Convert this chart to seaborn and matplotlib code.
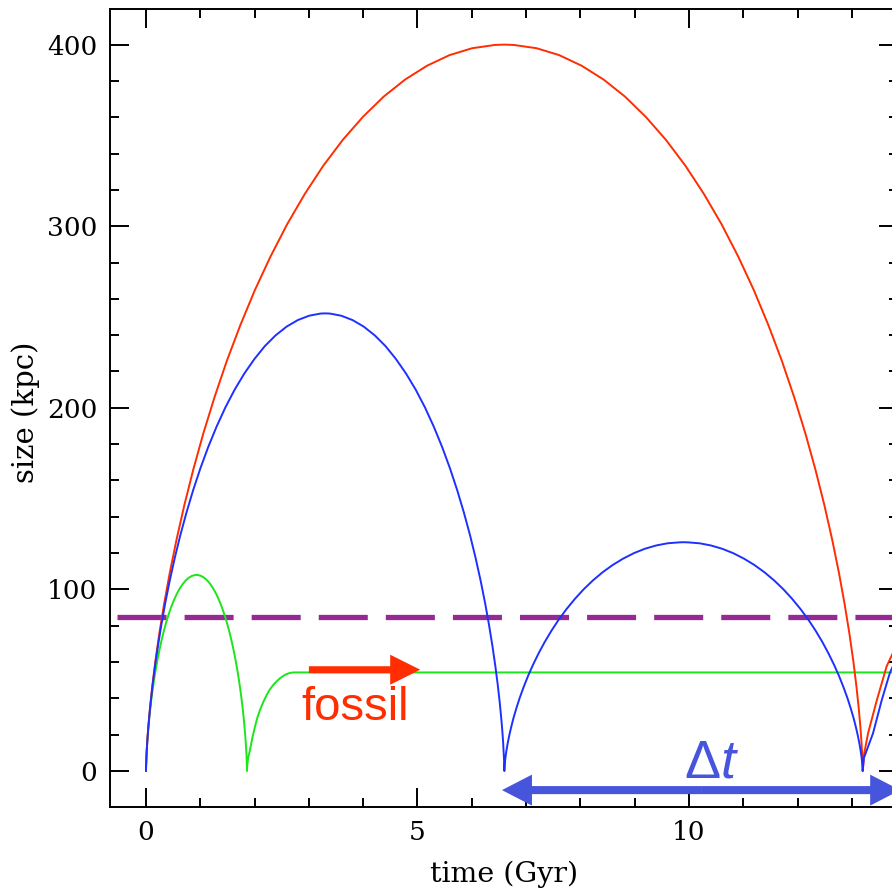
import numpy as np
import pandas as pd
import matplotlib
matplotlib.use("Agg")
import matplotlib.pyplot as plt
from matplotlib.ticker import MultipleLocator
import seaborn as sns

# ---------------- data ----------------
red_t = [0, 0.00035, 0.0028, 0.0094, 0.0222, 0.0432, 0.0743, 0.1172, 0.1736, 0.2451,
         0.3330, 0.4386, 0.5629, 0.7068, 0.8709, 1.0557, 1.2614, 1.4881, 1.7356, 2.0036,
         2.2914, 2.5983, 2.9233, 3.2653, 3.6230, 3.9948, 4.3792, 4.7744, 5.1786, 5.5898,
         6.0061, 6.4253, 6.6,
         6.7747, 7.1939, 7.6102, 8.0214, 8.4256, 8.8208, 9.2052, 9.5770, 9.9347, 10.2767,
         10.6017, 10.9086, 11.1964, 11.4644, 11.7119, 11.9386, 12.1443, 12.3291, 12.4932, 12.6371,
         12.7614, 12.8670, 12.9549, 13.0264, 13.0828, 13.1257, 13.1568, 13.1778, 13.1906, 13.1972,
         13.19965, 13.2,
         13.23, 13.30, 13.46, 13.64, 13.74, 13.85]
red_size = [0, 1.0, 4.0, 8.9, 15.8, 24.5, 34.9, 47.0, 60.7, 75.7,
            91.9, 109.3, 127.5, 146.5, 166.0, 185.9, 205.8, 225.8, 245.4, 264.7,
            283.2, 301.0, 317.7, 333.3, 347.5, 360.2, 371.4, 380.8, 388.4, 394.2,
            398.0, 399.8, 400,
            399.8, 398.0, 394.2, 388.4, 380.8, 371.4, 360.2, 347.5, 333.3, 317.7,
            301.0, 283.2, 264.7, 245.4, 225.8, 205.8, 185.9, 166.0, 146.5, 127.5,
            109.3, 91.9, 75.7, 60.7, 47.0, 34.9, 24.5, 15.8, 8.9, 4.0,
            1.0, 0,
            10, 21, 39, 57.6, 64, 70]

blue_t = [0, 0.00017, 0.0014, 0.0047, 0.0111, 0.0216, 0.0371, 0.0586, 0.0868, 0.1226,
          0.1665, 0.2193, 0.2815, 0.3534, 0.4354, 0.5278, 0.6307, 0.7441, 0.8678, 1.0018,
          1.1457, 1.2992, 1.4617, 1.6327, 1.8115, 1.9974, 2.1896, 2.3872, 2.5893, 2.7949,
          3.0031, 3.2127, 3.3,
          3.3873, 3.5969, 3.8051, 4.0107, 4.2128, 4.4104, 4.6026, 4.7885, 4.9673, 5.1383,
          5.3008, 5.4543, 5.5982, 5.7322, 5.8559, 5.9693, 6.0722, 6.1646, 6.2466, 6.3185,
          6.3807, 6.4335, 6.4774, 6.5132, 6.5414, 6.5629, 6.5784, 6.5889, 6.5953, 6.5986,
          6.5998, 6.6,
          6.6002, 6.6014, 6.6047, 6.6111, 6.6216, 6.6371, 6.6586, 6.6868, 6.7226, 6.7665,
          6.8193, 6.8815, 6.9534, 7.0354, 7.1278, 7.2307, 7.3441, 7.4678, 7.6018, 7.7457,
          7.8992, 8.0617, 8.2327, 8.4115, 8.5974, 8.7896, 8.9872, 9.1893, 9.3949, 9.6031,
          9.8127, 9.9,
          9.9873, 10.1969, 10.4051, 10.6107, 10.8128, 11.0104, 11.2026, 11.3885, 11.5673, 11.7383,
          11.9008, 12.0543, 12.1982, 12.3322, 12.4559, 12.5693, 12.6722, 12.7646, 12.8466, 12.9185,
          12.9807, 13.0335, 13.0774, 13.1132, 13.1414, 13.1629, 13.1784, 13.1889, 13.1953, 13.1986,
          13.1998, 13.2,
          13.22, 13.39, 13.55, 13.70, 13.85]
blue_size = [0, 0.6, 2.5, 5.6, 9.9, 15.4, 22.0, 29.6, 38.2, 47.7,
             57.9, 68.8, 80.3, 92.3, 104.6, 117.1, 129.7, 142.2, 154.6, 166.7,
             178.4, 189.6, 200.2, 210.0, 218.9, 226.9, 234.0, 239.9, 244.7, 248.3,
             250.7, 251.9, 252,
             251.9, 250.7, 248.3, 244.7, 239.9, 234.0, 226.9, 218.9, 210.0, 200.2,
             189.6, 178.4, 166.7, 154.6, 142.2, 129.7, 117.1, 104.6, 92.3, 80.3,
             68.8, 57.9, 47.7, 38.2, 29.6, 22.0, 15.4, 9.9, 5.6, 2.5,
             0.6, 0,
             0.3, 1.3, 2.8, 5.0, 7.7, 11.0, 14.8, 19.1, 23.8, 29.0,
             34.4, 40.2, 46.1, 52.3, 58.5, 64.8, 71.1, 77.3, 83.4, 89.2,
             94.8, 100.1, 105.0, 109.5, 113.5, 117.0, 120.0, 122.4, 124.2, 125.4,
             125.9, 126,
             125.9, 125.4, 124.2, 122.4, 120.0, 117.0, 113.5, 109.5, 105.0, 100.1,
             94.8, 89.2, 83.4, 77.3, 71.1, 64.8, 58.5, 52.3, 46.1, 40.2,
             34.4, 29.0, 23.8, 19.1, 14.8, 11.0, 7.7, 5.0, 2.8, 1.3,
             0.3, 0,
             7, 20.8, 39, 54, 64]

green_t = [0, 0.00005, 0.0004, 0.0013, 0.0031, 0.0061, 0.0105, 0.0165, 0.0245, 0.0345,
           0.0469, 0.0618, 0.0793, 0.0996, 0.1227, 0.1488, 0.1777, 0.2097, 0.2446, 0.2823,
           0.3229, 0.3661, 0.4119, 0.4601, 0.5105, 0.5629, 0.6171, 0.6728, 0.7297, 0.7877,
           0.8463, 0.9054, 0.93,
           0.9546, 1.0137, 1.0723, 1.1303, 1.1872, 1.2429, 1.2971, 1.3495, 1.3999, 1.4481,
           1.4939, 1.5371, 1.5777, 1.6154, 1.6503, 1.6823, 1.7112, 1.7373, 1.7604, 1.7807,
           1.7982, 1.8131, 1.8255, 1.8355, 1.8435, 1.8495, 1.8539, 1.8569, 1.8587, 1.8596,
           1.85995, 1.86,
           1.865, 1.88, 1.915, 1.96, 2.007, 2.05, 2.099, 2.16, 2.223, 2.28, 2.344,
           2.41, 2.468, 2.53, 2.591, 2.65, 2.713, 13.85]
green_size = [0, 0.27, 1.08, 2.41, 4.26, 6.61, 9.43, 12.70, 16.38, 20.43,
              24.82, 29.51, 34.43, 39.56, 44.82, 50.18, 55.58, 60.96, 66.27, 71.46,
              76.47, 81.26, 85.78, 89.98, 93.82, 97.26, 100.27, 102.82, 104.88, 106.43,
              107.46, 107.95, 108,
              107.95, 107.46, 106.43, 104.88, 102.82, 100.27, 97.26, 93.82, 89.98, 85.78,
              81.26, 76.47, 71.46, 66.27, 60.96, 55.58, 50.18, 44.82, 39.56, 34.43,
              29.51, 24.82, 20.43, 16.38, 12.70, 9.43, 6.61, 4.26, 2.41, 1.08,
              0.27, 0,
              3, 7, 11.6, 18.5, 24.4, 29.3, 33.6, 38.0, 41.9, 44.9, 47.4,
              49.5, 51.1, 52.4, 53.4, 54.0, 54.3, 54.3]

threshold_t = [-0.534, 13.85]
threshold_size = [85, 85]

fossil_arrow = [(3.0, 55.8), (5.05, 55.8)]
dt_arrow = [(6.556, -10.5), (13.89, -10.5)]

x_ticks = [0, 5, 10]
y_ticks = [0, 100, 200, 300, 400]

RED = "#FF2D00"
BLUE = "#1E30FF"
GREEN = "#1AE61A"
PURPLE = "#952A94"
DTBLUE = "#4655DC"

# ---------------- plotting ----------------
sns.set_style("ticks")
plt.rcParams["font.family"] = ["DejaVu Serif"]
plt.rcParams["lines.scale_dashes"] = False
plt.rcParams["mathtext.fontset"] = "custom"
plt.rcParams["mathtext.rm"] = "Liberation Sans"
plt.rcParams["mathtext.it"] = "Liberation Sans:italic"
plt.rcParams["text.color"] = "black"
plt.rcParams["xtick.labelcolor"] = "black"
plt.rcParams["ytick.labelcolor"] = "black"
plt.rcParams["xtick.color"] = "black"
plt.rcParams["ytick.color"] = "black"

fig = plt.figure(figsize=(8.92, 8.90), dpi=100)
ax = fig.add_axes([110 / 892, 83 / 890, 788 / 892, 798 / 890])

# dashed threshold line (drawn underneath the curves)
sns.lineplot(x=threshold_t, y=threshold_size, color=PURPLE, lw=3.8,
             linestyle=(0, (35.3, 13.0)), estimator=None, sort=False, ax=ax, zorder=1)

df = pd.concat([
    pd.DataFrame({"series": "green", "t": green_t, "size": green_size}),
    pd.DataFrame({"series": "red", "t": red_t, "size": red_size}),
    pd.DataFrame({"series": "blue", "t": blue_t, "size": blue_size}),
], ignore_index=True)

sns.lineplot(data=df, x="t", y="size", hue="series",
             hue_order=["green", "red", "blue"],
             palette={"red": RED, "blue": BLUE, "green": GREEN},
             estimator=None, sort=False, legend=False, lw=1.4, ax=ax, zorder=2)

# fossil arrow
ax.annotate("", xy=fossil_arrow[1], xytext=fossil_arrow[0],
            arrowprops=dict(arrowstyle="simple,head_length=21.6,head_width=21.6,tail_width=5.0",
                            mutation_scale=1, color=RED, lw=0, shrinkA=0, shrinkB=0),
            zorder=5)
ax.text(3.85, 28.1, "fossil", color=RED, fontsize=34, family="Liberation Sans",
        ha="center", va="baseline")

# delta t double arrow
mid = ((dt_arrow[0][0] + dt_arrow[1][0]) / 2, dt_arrow[0][1])
for end in dt_arrow:
    ax.annotate("", xy=end, xytext=mid,
                arrowprops=dict(arrowstyle="simple,head_length=21.6,head_width=22.3,tail_width=5.8",
                                mutation_scale=1, color=DTBLUE, lw=0, shrinkA=0, shrinkB=0),
                annotation_clip=False, zorder=5)
ax.text(10.41, -3.3, r"$\Delta t$", color=DTBLUE, fontsize=39, ha="center", va="baseline")

ax.set_xlim(-0.663, 13.85)
ax.set_ylim(-19.8, 419.6)
ax.set_xticks(x_ticks)
ax.set_yticks(y_ticks)
ax.xaxis.set_minor_locator(MultipleLocator(1))
ax.yaxis.set_minor_locator(MultipleLocator(20))
ax.tick_params(which="both", direction="in", top=True, right=True, width=1.4, color="black")
ax.tick_params(which="major", length=13.7, labelsize=19, pad=9)
ax.tick_params(which="minor", length=6.8)
for s in ax.spines.values():
    s.set_linewidth(1.4)
    s.set_color("black")
ax.set_xlabel("")
ax.set_ylabel("")

fig.text(504 / 892, 8 / 890, "time (Gyr)", fontsize=20.5, ha="center", va="baseline")
fig.text(26 / 892, (890 - 412) / 890, "size (kpc)", fontsize=21, rotation=90,
         ha="center", va="center")

fig.savefig("out.png", dpi=100)
